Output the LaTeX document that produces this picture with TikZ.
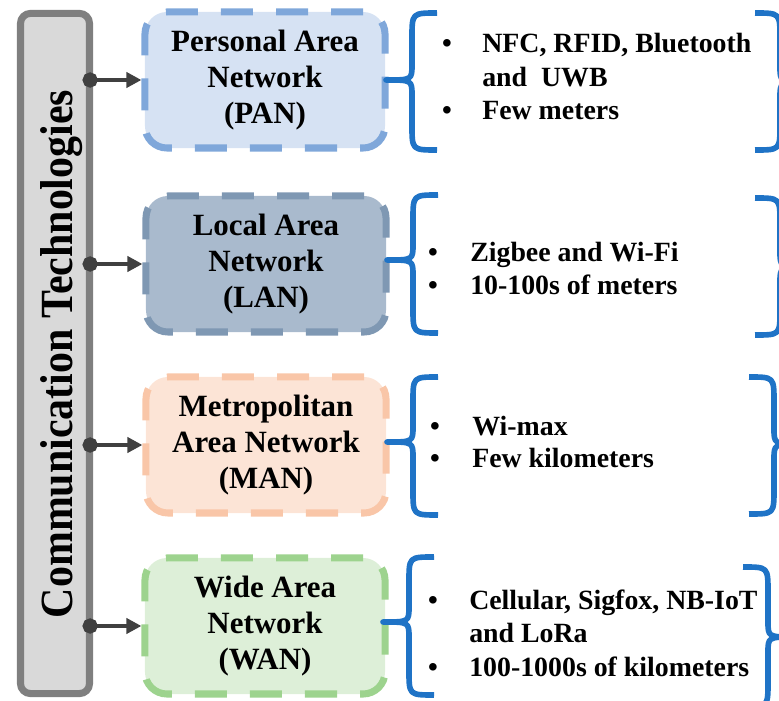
\documentclass[tikz,border=0pt]{standalone}
\usepackage{fontspec}
\setmainfont{Liberation Serif}
\usetikzlibrary{arrows.meta, calc, math}
\definecolor{bargray}{HTML}{D9D9D9}
\definecolor{bardraw}{HTML}{7F7F7F}
\definecolor{panfill}{HTML}{D6E2F3}
\definecolor{pandraw}{HTML}{7FA7DA}
\definecolor{lanfill}{HTML}{A9BACD}
\definecolor{landraw}{HTML}{7F98B3}
\definecolor{manfill}{HTML}{FCE4D6}
\definecolor{mandraw}{HTML}{F9C6A8}
\definecolor{wanfill}{HTML}{DDEFD8}
\definecolor{wandraw}{HTML}{9DD38E}
\definecolor{braceblue}{HTML}{1F73C6}
\definecolor{arrowgray}{HTML}{404040}

\begin{document}
\begin{tikzpicture}[x=0.025cm, y=-0.025cm,
  bar/.style={draw=bardraw, fill=bargray, line width=5pt, rounded corners=0.25cm,
    minimum width=1.725cm, minimum height=17cm, inner sep=0pt},
  netbox/.style={line width=5pt, dash pattern=on 0.8cm off 0.575cm, rounded corners=0.55cm,
    minimum width=6cm, minimum height=3.4cm, align=center, inner sep=0pt,
    font=\fontsize{22}{25.6}\selectfont\bfseries},
  bulletdot/.style={anchor=base, inner sep=0pt, font=\fontsize{19.8}{24}\selectfont\bfseries},
  listline/.style={anchor=base west, inner sep=0pt, font=\fontsize{19.8}{24}\selectfont\bfseries},
  link/.style={draw=arrowgray, line width=3.2pt, {Circle[length=0.38cm]}-{Triangle[length=0.38cm, width=0.38cm]}},
  curly/.style={draw=braceblue, line width=4pt, line join=round}
]
\tikzmath{
\dl=25;
\dt=26;
}
\useasboundingbox (0,0) rectangle (779,701);
\clip (0,0) rectangle (779,701);

 % left column
 \node[bar] (bar) at (55,353.5) {};
 \node[rotate=90, inner sep=0pt, font=\fontsize{29.8}{32}\selectfont\bfseries] (title) at (62,354)
   {\scalebox{1}[1.1]{Communication Technologies}};

 % network boxes
 \node[netbox, fill=panfill, draw=pandraw] (pan) at (265,80) {Personal Area\\Network\\(PAN)};
 \node[netbox, fill=lanfill, draw=landraw] (lan) at (266,264) {Local Area\\Network\\(LAN)};
 \node[netbox, fill=manfill, draw=mandraw] (man) at (266,445) {Metropolitan\\Area Network\\(MAN)};
 \node[netbox, fill=wanfill, draw=wandraw] (wan) at (265,626) {Wide Area\\Network\\(WAN)};

 % connectors
 \coordinate (pans) at ($(bar.east |- pan.west)+(-10.5,0)$);
 \coordinate (lans) at ($(bar.east |- lan.west)+(-10.5,0)$);
 \coordinate (mans) at ($(bar.east |- man.west)+(-10.5,0)$);
 \coordinate (wans) at ($(bar.east |- wan.west)+(-10.5,0)$);
 \draw[link] (pans) -- (pan.west);
 \draw[link] (lans) -- (lan.west);
 \draw[link] (mans) -- (man.west);
 \draw[link] (wans) -- (wan.west);

 % braces
 \draw[curly] (437,13) .. controls (437-\dl,13) .. (437-\dl,13+\dl) -- (437-\dl,64)
   .. controls (437-\dl,80) .. (437-\dl-\dt,80) .. controls (437-\dl,80) .. (437-\dl,96)
   -- (437-\dl,150-\dl) .. controls (437-\dl,150) .. (437,150);
 \draw[curly] (438,195) .. controls (438-\dl,195) .. (438-\dl,195+\dl) -- (438-\dl,244)
   .. controls (438-\dl,260) .. (438-\dl-\dt,260) .. controls (438-\dl,260) .. (438-\dl,276)
   -- (438-\dl,333-\dl) .. controls (438-\dl,333) .. (438,333);
 \draw[curly] (438,377) .. controls (438-\dl,377) .. (438-\dl,377+\dl) -- (438-\dl,426)
   .. controls (438-\dl,442) .. (438-\dl-\dt,442) .. controls (438-\dl,442) .. (438-\dl,458)
   -- (438-\dl,515-\dl) .. controls (438-\dl,515) .. (438,515);
 \draw[curly] (434,557) .. controls (434-\dl,557) .. (434-\dl,557+\dl) -- (434-\dl,606)
   .. controls (434-\dl,622) .. (434-\dl-\dt,622) .. controls (434-\dl,622) .. (434-\dl,638)
   -- (434-\dl,695-\dl) .. controls (434-\dl,695) .. (434,695);

 \draw[curly] (755,13) .. controls (755+\dl,13) .. (755+\dl,13+\dl) -- (755+\dl,66)
   .. controls (755+\dl,82) .. (755+\dl+\dt,82) .. controls (755+\dl,82) .. (755+\dl,98)
   -- (755+\dl,150-\dl) .. controls (755+\dl,150) .. (755,150);
 \draw[curly] (755,198) .. controls (755+\dl,198) .. (755+\dl,198+\dl) -- (755+\dl,251)
   .. controls (755+\dl,267) .. (755+\dl+\dt,267) .. controls (755+\dl,267) .. (755+\dl,283)
   -- (755+\dl,335-\dl) .. controls (755+\dl,335) .. (755,335);
 \draw[curly] (749,377) .. controls (749+\dl,377) .. (749+\dl,377+\dl) -- (749+\dl,428)
   .. controls (749+\dl,444) .. (749+\dl+\dt,444) .. controls (749+\dl,444) .. (749+\dl,460)
   -- (749+\dl,514-\dl) .. controls (749+\dl,514) .. (749,514);
 \draw[curly] (743,567) .. controls (743+\dl,567) .. (743+\dl,567+\dl) -- (743+\dl,621)
   .. controls (743+\dl,637) .. (743+\dl+\dt,637) .. controls (743+\dl,637) .. (743+\dl,653)
   -- (743+\dl,707-\dl) .. controls (743+\dl,707) .. (743,707);

 % PAN list
 \node[bulletdot] (panb1) at (447,53) {•};
 \node[listline] (pan1) at (482,53) {NFC, RFID, Bluetooth};
 \node[listline] (pan2) at (482,87) {and\ \ UWB};
 \node[bulletdot] (panb2) at (447,120) {•};
 \node[listline] (pan3) at (482,120) {Few meters};

 % LAN list
 \node[bulletdot] (lanb1) at (433,262) {•};
 \node[listline] (lan1) at (470,262) {Zigbee and Wi-Fi};
 \node[bulletdot] (lanb2) at (433,295) {•};
 \node[listline] (lan2) at (470,295) {10-100s of meters};

 % MAN list
 \node[bulletdot] (manb1) at (435,436) {•};
 \node[listline] (man1) at (472,436) {Wi-max};
 \node[bulletdot] (manb2) at (435,468) {•};
 \node[listline] (man2) at (472,468) {Few kilometers};

 % WAN list
 \node[bulletdot] (wanb1) at (433,610) {•};
 \node[listline] (wan1) at (469,610) {Cellular, Sigfox, NB-IoT};
 \node[listline] (wan2) at (469,643) {and LoRa};
 \node[bulletdot] (wanb2) at (433,677) {•};
 \node[listline] (wan3) at (469,677) {100-1000s of kilometers};

\end{tikzpicture}
\end{document}
